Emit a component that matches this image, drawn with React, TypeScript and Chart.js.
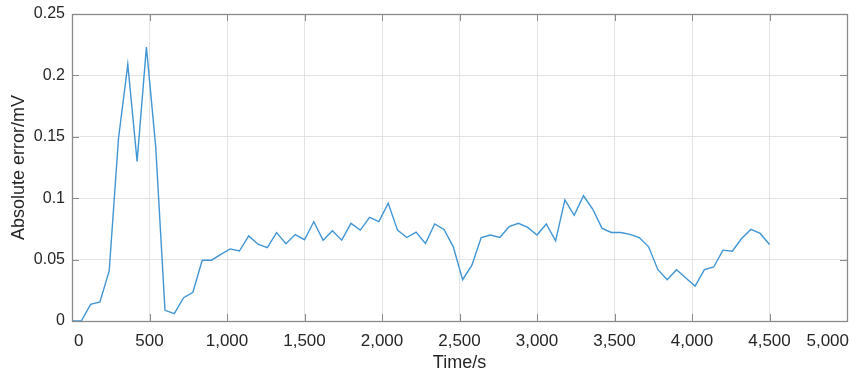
import React, { useEffect, useRef } from "react";
import { Chart, registerables } from "chart.js";

Chart.register(...registerables);

const times: number[] = [
  0, 60, 120, 180, 240, 300, 360, 420, 480, 540, 600, 660, 720, 780, 840, 900,
  960, 1020, 1080, 1140, 1200, 1260, 1320, 1380, 1440, 1500, 1560, 1620, 1680,
  1740, 1800, 1860, 1920, 1980, 2040, 2100, 2160, 2220, 2280, 2340, 2400, 2460,
  2520, 2580, 2640, 2700, 2760, 2820, 2880, 2940, 3000, 3060, 3120, 3180, 3240,
  3300, 3360, 3420, 3480, 3540, 3600, 3660, 3720, 3780, 3840, 3900, 3960, 4020,
  4080, 4140, 4200, 4260, 4320, 4380, 4440, 4500,
];

const absError: number[] = [
  0, 0, 0.0136, 0.0155, 0.0408, 0.1486, 0.209, 0.13, 0.223, 0.142, 0.0087,
  0.006, 0.019, 0.0234, 0.0495, 0.0495, 0.0543, 0.0587, 0.057, 0.0693, 0.0625,
  0.0598, 0.072, 0.063, 0.0704, 0.0662, 0.0808, 0.0658, 0.0735, 0.0658, 0.0795,
  0.074, 0.0844, 0.0809, 0.0959, 0.074, 0.068, 0.0724, 0.0631, 0.079, 0.0746,
  0.0604, 0.0336, 0.0454, 0.068, 0.07, 0.068, 0.0768, 0.0795, 0.0762, 0.07,
  0.079, 0.0653, 0.0986, 0.086, 0.102, 0.091, 0.0754, 0.0721, 0.0721, 0.0705,
  0.068, 0.0604, 0.0418, 0.0336, 0.0418, 0.035, 0.0284, 0.0418, 0.044, 0.0577,
  0.0568, 0.0672, 0.0746, 0.0713, 0.0623,
];

const xTitle = "Time/s";
const yTitle = "Absolute error/mV";

const FONT = "'Liberation Sans', Arial, Helvetica, sans-serif";
const TEXT = "#262626";

const fmtX = (v: number) => Number(v).toLocaleString("en-US");

const framePlugin = {
  id: "matlabFrame",
  afterDatasetsDraw(chart: any) {
    const { ctx, chartArea } = chart;
    const { left, right, top, bottom } = chartArea;
    const xs = chart.scales.x;
    const ys = chart.scales.y;
    const tl = 7;
    ctx.save();
    ctx.strokeStyle = "#8a8a8a";
    ctx.lineWidth = 1;
    ctx.beginPath();
    xs.ticks.forEach((t: any) => {
      const px = Math.round(xs.getPixelForValue(t.value)) + 0.5;
      ctx.moveTo(px, bottom);
      ctx.lineTo(px, bottom - tl);
      ctx.moveTo(px, top);
      ctx.lineTo(px, top + tl);
    });
    ys.ticks.forEach((t: any) => {
      const py = Math.round(ys.getPixelForValue(t.value)) + 0.5;
      ctx.moveTo(left, py);
      ctx.lineTo(left + tl, py);
      ctx.moveTo(right, py);
      ctx.lineTo(right - tl, py);
    });
    ctx.stroke();
    ctx.lineWidth = 1.3;
    ctx.strokeRect(Math.round(left) + 0.5, Math.round(top) + 0.5, Math.round(right - left), Math.round(bottom - top));

    // x tick labels, kept inside the axes box horizontally
    ctx.fillStyle = TEXT;
    ctx.font = `17px ${FONT}`;
    ctx.textAlign = "center";
    ctx.textBaseline = "top";
    xs.ticks.forEach((t: any) => {
      const label = fmtX(t.value);
      const w = ctx.measureText(label).width;
      let px = xs.getPixelForValue(t.value);
      px = Math.max(px, left + w / 2 + 2);
      px = Math.min(px, right - w / 2 + 2);
      ctx.fillText(label, px, bottom + 12);
    });
    ctx.restore();
  },
};

export default function App() {
  const ref = useRef<HTMLCanvasElement | null>(null);
  useEffect(() => {
    if (!ref.current) return;
    const chart = new Chart(ref.current, {
      type: "line",
      data: {
        datasets: [
          {
            data: times.map((t, i) => ({ x: t, y: absError[i] })),
            borderColor: "#4095d5",
            borderWidth: 1.4,
            pointRadius: 0,
            tension: 0,
            fill: false,
          },
        ],
      },
      options: {
        responsive: false,
        animation: false,
        layout: { padding: { top: 14, right: 11, left: 0, bottom: 0 } },
        plugins: { legend: { display: false }, tooltip: { enabled: false } },
        scales: {
          x: {
            type: "linear",
            min: 0,
            max: 5000,
            afterFit: (s: any) => {
              s.height = 53;
              s.paddingLeft = 0;
              s.paddingRight = 0;
            },
            ticks: {
              stepSize: 500,
              maxRotation: 0,
              autoSkip: false,
              display: false,
            },
            grid: { color: "#e3e3e3", drawTicks: false, lineWidth: 1 },
            border: { display: false },
            title: {
              display: true,
              text: xTitle,
              color: TEXT,
              font: { family: FONT, size: 18 },
              padding: { top: 0, bottom: 0 },
            },
          },
          y: {
            type: "linear",
            min: 0,
            max: 0.25,
            afterFit: (s: any) => {
              s.width = 72;
              s.paddingTop = 0;
              s.paddingBottom = 0;
            },
            ticks: {
              stepSize: 0.05,
              padding: 7,
              color: TEXT,
              font: { family: FONT, size: 16 },
              callback: (v: any) => String(Math.round(Number(v) * 100) / 100),
            },
            grid: { color: "#e3e3e3", drawTicks: false, lineWidth: 1 },
            border: { display: false },
            title: {
              display: true,
              text: yTitle,
              color: TEXT,
              font: { family: FONT, size: 18 },
              padding: { top: 8, bottom: 0 },
            },
          },
        },
      },
      plugins: [framePlugin],
    });
    return () => chart.destroy();
  }, []);
  return (
    <div style={{ position: "absolute", left: 0, top: 0, width: 858, height: 374, background: "#fff" }}>
      <canvas ref={ref} width={858} height={374} />
    </div>
  );
}
